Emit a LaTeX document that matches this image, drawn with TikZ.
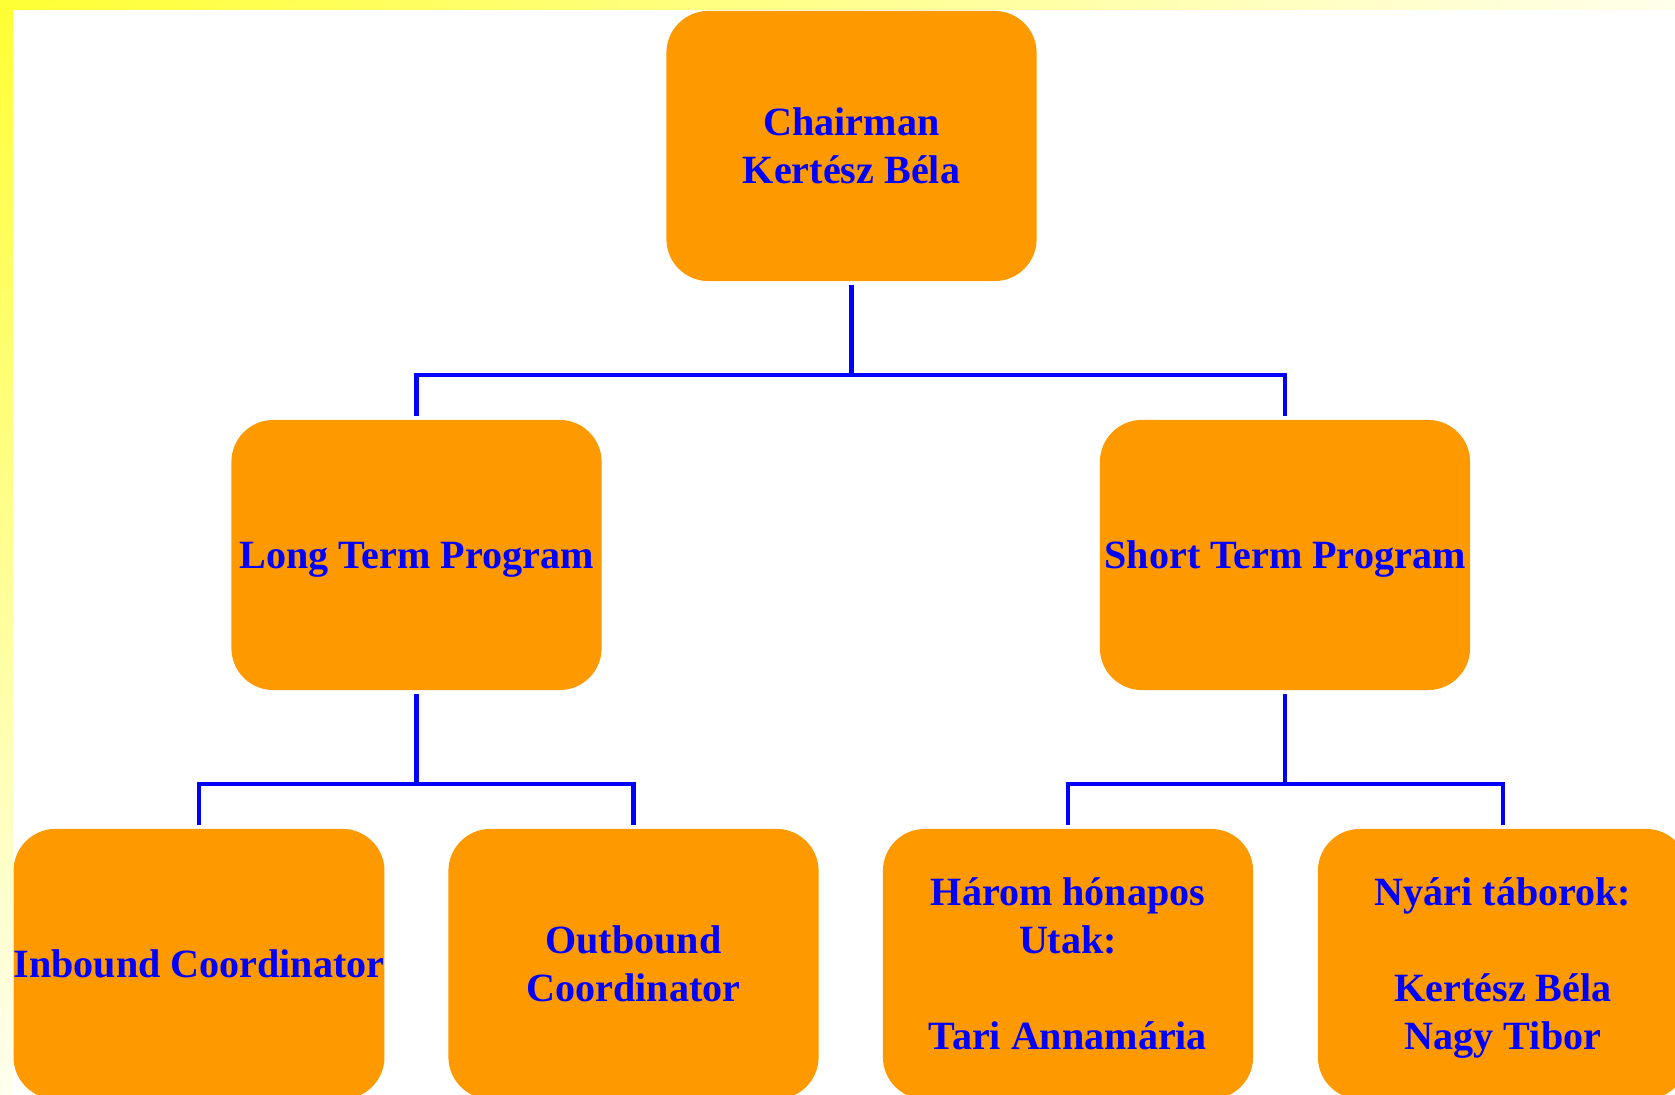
\documentclass[tikz,border=0pt]{standalone}
\usepackage{fontspec}
\setmainfont{Liberation Serif}
\usetikzlibrary{shadings}
\definecolor{postfill}{HTML}{FF9900}
\definecolor{postblue}{HTML}{0000FF}
\definecolor{frameyellow}{HTML}{FFFF33}
\begin{document}
\begin{tikzpicture}[x=0.01cm, y=-0.01cm,
    post/.style={fill=postfill, text=postblue, rounded corners=0.42cm, inner sep=0,
      minimum width=3.7cm, minimum height=2.7cm, align=center, text depth=-1.5pt,
      font=\fontsize{11.4}{13.66}\selectfont\bfseries},
    conn/.style={draw=postblue, line width=1.15pt},
    branch/.style={conn, shorten <=0.8pt, shorten >=0.8pt}]
      \useasboundingbox (0,0) rectangle (1675,1095);
      \clip (0,0) rectangle (1675,1095);

      % Page frame
      \shade[upper left=frameyellow, upper right=yellow!8, lower left=yellow!6, lower right=white]
        (0,0) rectangle (1675,1095);
      \fill[white] (13,10) rectangle (1675,1095);

      % Boxes
      \node[post] (chair) at (851.5,146) {Chairman\\Kertész Béla};
      \node[post] (longt) at (416.5,555) {Long Term Program};
      \node[post] (shortt) at (1285,555) {Short Term Program};
      \node[post] (inb) at (199,964) {Inbound Coordinator};
      \node[post] (outb) at (633.5,964) {Outbound\\Coordinator};
      \node[post] (harom) at (1068,964) {Három hónapos\\Utak:\\[13.66pt]Tari Annamária};
      \node[post] (nyari) at (1503,964) {Nyári táborok:\\[13.66pt]Kertész Béla\\Nagy Tibor};

      % Joints
      \coordinate (j0) at (851.5,375);
      \coordinate (j1) at (416.5,784);
      \coordinate (j2) at (1285,784);

      % Connectors
      \draw[conn, shorten <=0.8pt] (chair) -- (j0);
      \draw[branch] (longt.north) |- (j0) -| (shortt.north);
      \draw[conn, shorten <=0.8pt] (longt) -- (j1);
      \draw[branch] (inb.north) |- (j1) -| (outb.north);
      \draw[conn, shorten <=0.8pt] (shortt) -- (j2);
      \draw[branch] (harom.north) |- (j2) -| (nyari.north);
    \end{tikzpicture}
\end{document}
